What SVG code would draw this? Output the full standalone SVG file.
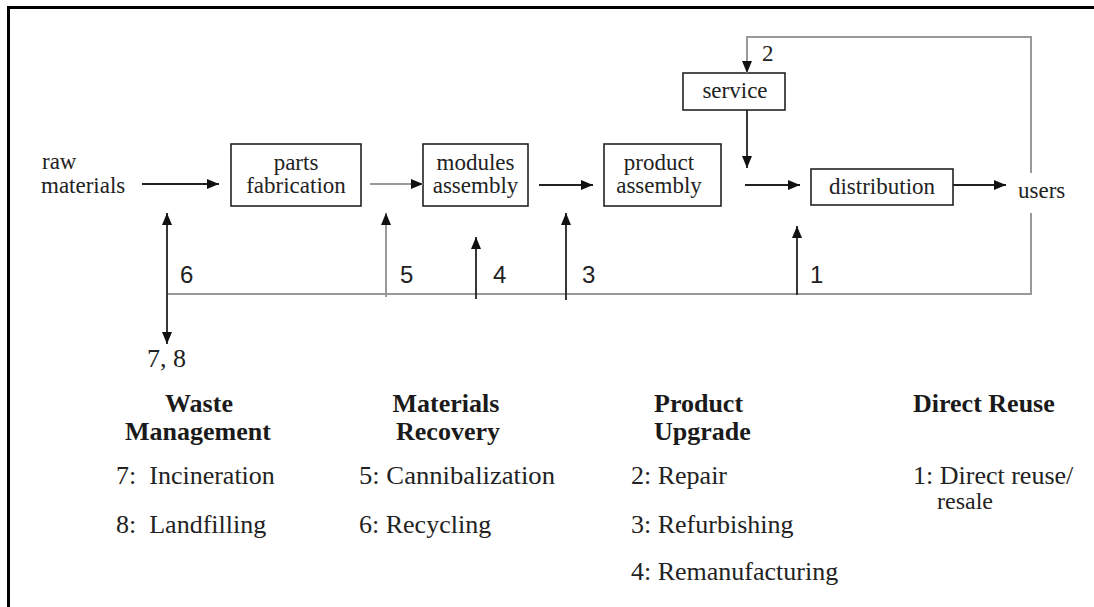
<svg xmlns="http://www.w3.org/2000/svg" width="1094" height="607" viewBox="0 0 1094 607">
<style>
.frame{stroke:#000;stroke-width:3;fill:none}
.box{fill:#fff;stroke:#222;stroke-width:1.6}
.t{font-family:"Liberation Serif","Times New Roman",serif;font-size:23px;fill:#222}
.lg{font-family:"Liberation Serif","Times New Roman",serif;font-size:26px;fill:#222}
.hd{font-family:"Liberation Serif","Times New Roman",serif;font-size:26px;font-weight:bold;fill:#1a1a1a}
.num{font-family:"Liberation Sans",Arial,sans-serif;font-size:24px;fill:#222}
.dk{stroke:#222;stroke-width:1.8;fill:none}
.gr{stroke:#999;stroke-width:2;fill:none}
</style>
<defs>
<marker id="ah" markerUnits="userSpaceOnUse" markerWidth="13" markerHeight="10" refX="12" refY="5" orient="auto">
<path d="M0,0 L12,5 L0,10 z" fill="#111"/>
</marker>
<marker id="ahs" markerUnits="userSpaceOnUse" markerWidth="13" markerHeight="10" refX="12" refY="5" orient="auto-start-reverse">
<path d="M0,0 L12,5 L0,10 z" fill="#111"/>
</marker>
</defs>
<rect width="1094" height="607" fill="#fff"/>
<path class="frame" d="M8.5,607 V7.5 H1094"/>

<g id="raw-materials">
<text class="t" x="42" y="169">raw</text>
<text class="t" x="41" y="193">materials</text>
</g>
<g id="parts-fabrication">
<rect class="box" x="231" y="144" width="130" height="62"/>
<text class="t" x="296" y="170" text-anchor="middle">parts</text>
<text class="t" x="296" y="193" text-anchor="middle">fabrication</text>
</g>
<g id="modules-assembly">
<rect class="box" x="423" y="144" width="105" height="62"/>
<text class="t" x="475.5" y="170" text-anchor="middle">modules</text>
<text class="t" x="475.5" y="193" text-anchor="middle">assembly</text>
</g>
<g id="product-assembly">
<rect class="box" x="604" y="144" width="117" height="62"/>
<text class="t" x="659" y="170" text-anchor="middle">product</text>
<text class="t" x="659" y="193" text-anchor="middle">assembly</text>
</g>
<g id="service">
<rect class="box" x="683" y="73" width="102" height="37"/>
<text class="t" x="735" y="98" text-anchor="middle">service</text>
</g>
<g id="distribution">
<rect class="box" x="811" y="169" width="142" height="36"/>
<text class="t" x="882" y="194" text-anchor="middle">distribution</text>
</g>
<g id="users">
<text class="t" x="1018" y="198">users</text>
</g>

<g id="connectors">
<line class="dk" x1="142" y1="184" x2="219" y2="184" marker-end="url(#ah)"/>
<line class="gr" x1="370" y1="184" x2="423" y2="184" marker-end="url(#ah)"/>
<line class="dk" x1="539" y1="185" x2="593" y2="185" marker-end="url(#ah)"/>
<line class="dk" x1="745" y1="185" x2="800" y2="185" marker-end="url(#ah)"/>
<line class="dk" x1="953" y1="185" x2="1006" y2="185" marker-end="url(#ah)"/>
<line class="dk" x1="747" y1="110" x2="747" y2="168" marker-end="url(#ah)"/>
<path class="gr" d="M1031,173 V37 H747 V73" marker-end="url(#ah)"/>
<path class="gr" d="M167,294 H1031 V213"/>
<line class="dk" x1="167" y1="213" x2="167" y2="344" marker-start="url(#ahs)" marker-end="url(#ah)"/>
<line class="gr" x1="386" y1="297" x2="386" y2="213" marker-end="url(#ah)"/>
<line class="dk" x1="476" y1="299" x2="476" y2="237" marker-end="url(#ah)"/>
<line class="dk" x1="566" y1="300" x2="566" y2="213" marker-end="url(#ah)"/>
<line class="dk" x1="797" y1="295" x2="797" y2="226" marker-end="url(#ah)"/>
<text class="t" x="762" y="61">2</text>
<text class="num" x="180" y="283">6</text>
<text class="num" x="400" y="283">5</text>
<text class="num" x="493" y="283">4</text>
<text class="num" x="582" y="283">3</text>
<text class="num" x="810" y="283">1</text>
<text class="lg" x="147" y="367">7, 8</text>
</g>

<g id="legend-waste">
<text class="hd" x="199" y="412" text-anchor="middle">Waste</text>
<text class="hd" x="198" y="440" text-anchor="middle">Management</text>
<text class="lg" x="116" y="484" xml:space="preserve">7:  Incineration</text>
<text class="lg" x="116" y="533" xml:space="preserve">8:  Landfilling</text>
</g>
<g id="legend-materials">
<text class="hd" x="446" y="412" text-anchor="middle">Materials</text>
<text class="hd" x="448" y="440" text-anchor="middle">Recovery</text>
<text class="lg" x="359" y="484" textLength="196" lengthAdjust="spacingAndGlyphs">5: Cannibalization</text>
<text class="lg" x="359" y="533">6: Recycling</text>
</g>
<g id="legend-product">
<text class="hd" x="654" y="412">Product</text>
<text class="hd" x="654" y="440">Upgrade</text>
<text class="lg" x="631" y="484">2: Repair</text>
<text class="lg" x="631" y="533">3: Refurbishing</text>
<text class="lg" x="631" y="580">4: Remanufacturing</text>
</g>
<g id="legend-direct">
<text class="hd" x="913" y="412">Direct Reuse</text>
<text class="lg" x="913" y="484">1: Direct reuse/</text>
<text class="lg" x="937" y="509" style="font-size:24px">resale</text>
</g>
</svg>
